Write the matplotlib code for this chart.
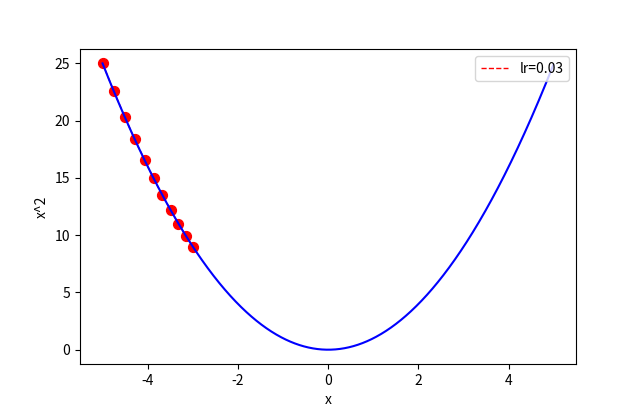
import numpy as np
import matplotlib
matplotlib.use('Agg')
import matplotlib.pyplot as plt

plt.rcParams['font.family'] = ['Noto Sans CJK SC', 'DejaVu Sans']
plt.rcParams['axes.unicode_minus'] = False

## 梯度下降轨迹 (从图上读出的点)
x_steps = [-5.0, -4.75, -4.51, -4.29, -4.07, -3.87, -3.68, -3.49, -3.32, -3.15, -2.99]
y_steps = [25.0, 22.56, 20.36, 18.38, 16.59, 14.97, 13.51, 12.19, 11.01, 9.93, 8.96]
lr_label = 'lr=0.03'

## 函数曲线
x = np.arange(-5, 5, 0.01)
y = x ** 2

fig = plt.figure(figsize=(6.4, 4.09), dpi=100)
plt.scatter(x_steps, y_steps, color='red', s=50, zorder=1)
plt.plot(x_steps, y_steps, 'r--', linewidth=1, label=lr_label, zorder=2)
plt.plot(x, y, color='blue', zorder=3)
plt.xlabel('x')
plt.ylabel('x^2')
plt.legend(loc='upper right')
plt.savefig('out.png', dpi=100)
